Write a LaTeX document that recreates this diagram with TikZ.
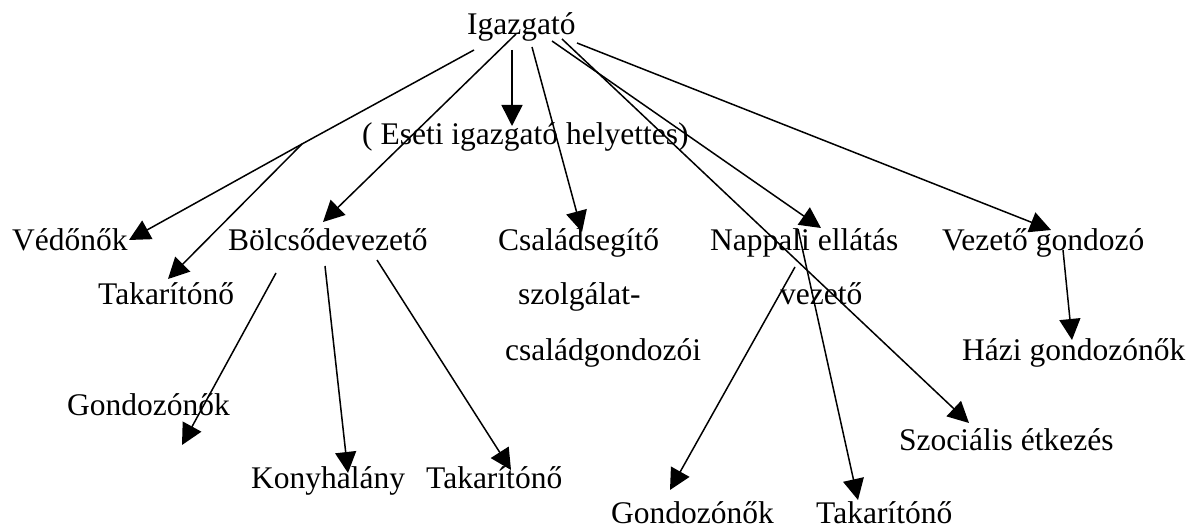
\documentclass[tikz,border=0pt]{standalone}
\usepackage{fontspec}
\setmainfont{Liberation Serif}
\usetikzlibrary{arrows.meta}
\begin{document}
\begin{tikzpicture}[x=1pt,y=-1pt,
  lbl/.style={anchor=base west, inner sep=0pt, font=\fontsize{31.5}{38}\selectfont},
  seg/.style={line width=1.5pt},
  conn/.style={seg, -{Triangle[length=21pt,width=21pt]}}]
\useasboundingbox (0,0) rectangle (1189,529);
% labels
\node[lbl] (ig)   at (467,35)  {Igazgató};
\node[lbl] (es)   at (362,145) {( Eseti igazgató helyettes)};
\node[lbl] (ved)  at (12,251)  {Védőnők};
\node[lbl] (bol)  at (228,251) {Bölcsődevezető};
\node[lbl] (csa)  at (498,251) {Családsegítő};
\node[lbl] (csb)  at (518,305) {szolgálat-};
\node[lbl] (csc)  at (505,360) {családgondozói};
\node[lbl] (nap)  at (710,251) {Nappali ellátás};
\node[lbl] (napb) at (780,305) {vezető};
\node[lbl] (vez)  at (942,251) {Vezető gondozó};
\node[lbl] (tak1) at (98,305)  {Takarítónő};
\node[lbl] (haz)  at (962,360) {Házi gondozónők};
\node[lbl] (gon1) at (67,415)  {Gondozónők};
\node[lbl] (szo)  at (899,450) {Szociális étkezés};
\node[lbl] (kon)  at (251,488) {Konyhalány};
\node[lbl] (tak2) at (426,488) {Takarítónő};
\node[lbl] (gon2) at (611,523) {Gondozónők};
\node[lbl] (tak3) at (816,523) {Takarítónő};
% connector end points
\coordinate (s1) at (474,50);
\coordinate (j)  at (302,144);
\coordinate (tved) at (129,240);
\coordinate (ttak1) at (168,279);
\coordinate (s2) at (516,34);
\coordinate (tbol) at (323,222);
\coordinate (s3) at (512,50);
\coordinate (tes) at (512,126);
\coordinate (s4) at (532,47);
\coordinate (tcsa) at (582,232);
\coordinate (s5) at (552,41);
\coordinate (tnap) at (821,228);
\coordinate (s6) at (562,39);
\coordinate (tszo) at (969,423);
\coordinate (s7) at (577,43);
\coordinate (tvez) at (1051,230);
\coordinate (b1) at (276,273);
\coordinate (tgon1) at (182,445);
\coordinate (b2) at (325,266);
\coordinate (tkon) at (348,473);
\coordinate (b3) at (377,260);
\coordinate (ttak2) at (511,470);
\coordinate (n1) at (798,229);
\coordinate (ttak3) at (858,500);
\coordinate (n2) at (795,267);
\coordinate (tgon2) at (670,490);
\coordinate (v1) at (1063,250);
\coordinate (thaz) at (1072,340);
% connectors
\draw[seg]  (s1) -- (j);
\draw[conn] (j) -- (tved);
\draw[conn] (j) -- (ttak1);
\draw[conn] (s2) -- (tbol);
\draw[conn] (s3) -- (tes);
\draw[conn] (s4) -- (tcsa);
\draw[conn] (s5) -- (tnap);
\draw[conn] (s6) -- (tszo);
\draw[conn] (s7) -- (tvez);
\draw[conn] (b1) -- (tgon1);
\draw[conn] (b2) -- (tkon);
\draw[conn] (b3) -- (ttak2);
\draw[conn] (n1) -- (ttak3);
\draw[conn] (n2) -- (tgon2);
\draw[conn] (v1) -- (thaz);
\end{tikzpicture}
\end{document}
